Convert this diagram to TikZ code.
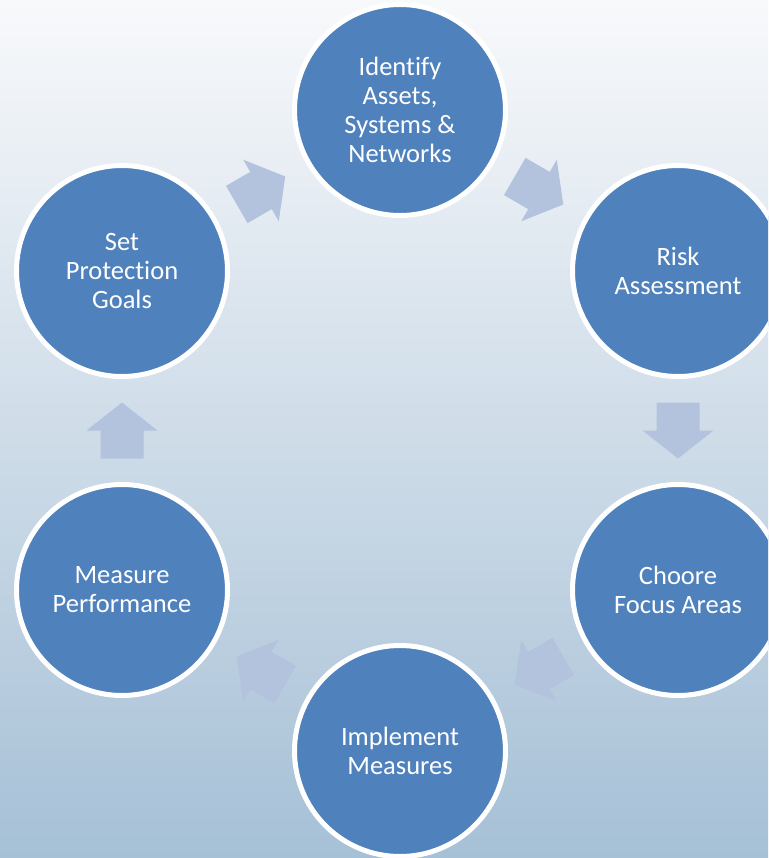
\documentclass[tikz,border=0pt]{standalone}
\usepackage{fontspec}
\setmainfont{Carlito}[Ligatures=NoCommon]
\usetikzlibrary{calc}
\definecolor{bgtop}{HTML}{F8F9FB}
\definecolor{bgmid}{HTML}{DCE1E9}
\definecolor{bgbot}{HTML}{A6C0D6}
\definecolor{circblue}{HTML}{4F81BD}
\definecolor{arrowfill}{HTML}{B3C3DE}
\tikzset{
  stage/.style={circle, fill=circblue, draw=white, line width=5pt, minimum size=211pt,
    inner sep=0pt, text=white, align=center, font=\fontsize{26.5}{29}\selectfont},
  blockarr/.pic={\fill[arrowfill] (-28,-21.5) -- (0,-21.5) -- (0,-35.5) -- (28,0) -- (0,35.5) -- (0,21.5) -- (-28,21.5) -- cycle;}
}
\begin{document}
\begin{tikzpicture}[x=1pt,y=-1pt]
\useasboundingbox (0,0) rectangle (768,858);
\begin{scope}
\clip (0,0) rectangle (768,858);
\shade[top color=bgtop, middle color=bgmid, bottom color=bgbot] (0,0) rectangle (768,858);
\node[stage] (ident) at (400,110) {Identify\\Assets,\\Systems \&\\Networks};
\node[stage] (risk) at (678,271) {Risk\\Assessment};
\node[stage] (focus) at (678,590) {Choore\\Focus Areas};
\node[stage] (impl) at (400,751) {Implement\\Measures};
\node[stage] (perf) at (122,590) {Measure\\Performance};
\node[stage] (goals) at (122,271) {Set\\Protection\\Goals};
\pic[rotate=30] at ($(goals)!0.5!(ident)$) {blockarr};
\pic[rotate=-30] at ($(ident)!0.5!(risk)$) {blockarr};
\pic[rotate=-90] at ($(risk)!0.5!(focus)$) {blockarr};
\pic[rotate=-150] at ($(focus)!0.5!(impl)$) {blockarr};
\pic[rotate=-210] at ($(impl)!0.5!(perf)$) {blockarr};
\pic[rotate=-270] at ($(perf)!0.5!(goals)$) {blockarr};
\end{scope}
\end{tikzpicture}
\end{document}
